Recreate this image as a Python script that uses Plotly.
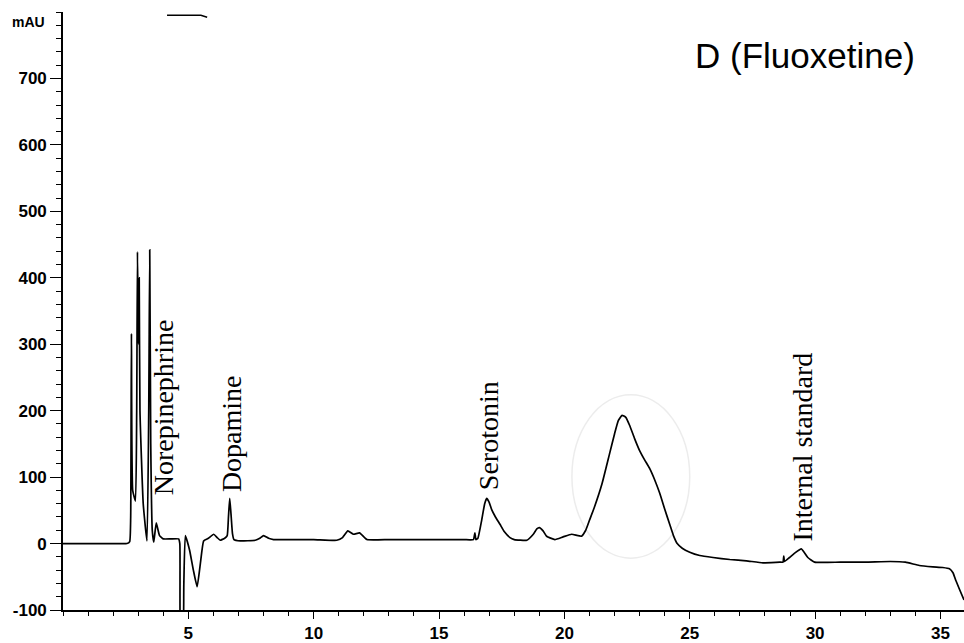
import plotly.graph_objects as go

# Retention time (min) and absorbance (mAU)
time_min = [0.0, 1.0, 2.0, 2.55, 2.66, 2.70, 2.73, 2.78, 2.89, 2.94, 2.97, 3.01, 3.04, 3.07, 3.20, 3.35,
            3.42, 3.46, 3.50, 3.56, 3.62, 3.72, 3.85, 4.0, 4.3, 4.61, 4.66, 4.70, 4.77, 4.82, 4.88,
            5.05, 5.2, 5.35, 5.48, 5.61, 5.8, 6.01, 6.15, 6.27, 6.45, 6.55, 6.60, 6.65, 6.70, 6.76,
            6.82, 7.07, 7.67, 7.85, 8.0, 8.2, 8.4, 9.0, 10.0, 10.92, 11.15, 11.36, 11.59, 11.83,
            12.12, 13.0, 14.0, 15.0, 16.0, 16.37, 16.43, 16.47, 16.55, 16.7, 16.82, 16.9, 17.0,
            17.1, 17.25, 17.43, 17.6, 17.83, 18.0, 18.5, 18.76, 18.9, 19.0, 19.15, 19.29, 19.62,
            19.95, 20.29, 20.68, 20.85, 21.0, 21.2, 21.5, 21.8, 22.0, 22.15, 22.3, 22.45, 22.6,
            22.8, 23.0, 23.2, 23.4, 23.6, 23.8, 24.0, 24.2, 24.35, 24.5, 24.7, 25.0, 25.4, 25.93,
            26.6, 27.26, 27.92, 28.59, 28.72, 28.75, 28.78, 28.98, 29.2, 29.45, 29.71, 29.98,
            31.0, 32.0, 33.0, 33.6, 34.16, 34.7, 35.09, 35.36, 35.5, 35.62, 35.75, 35.94]
absorbance_mau = [0, 0, 0, 0, 3, 40, 316, 80, 64, 200, 439, 300, 400, 200, 60, 4,
                  200, 442, 150, 20, 2, 31, 12, 7, 7, 7, 0, -160, -160, -60, 12,
                  -10, -40, -65, -30, 4, 8, 14, 9, 5, 8, 12, 40, 68, 45, 15,
                  6, 4, 5, 8, 12, 8, 6, 6, 6, 5, 9, 19, 14, 16,
                  6, 6, 6, 6, 6, 6, 16, 6, 8, 35, 60, 68, 62,
                  51, 40, 29, 18, 9, 6, 5, 14, 22, 24, 19, 11, 6,
                  10, 14, 11, 20, 35, 55, 90, 135, 165, 185, 193, 190, 178,
                  158, 140, 126, 113, 96, 76, 52, 29, 12, 0, -7, -13, -18, -21,
                  -24, -26, -29, -28, -28, -19, -27, -21, -14, -8, -21, -28,
                  -28, -28, -27, -28, -33, -35, -36, -38, -44, -56, -68, -85]

# Short stray trace segment near the top of the scan
stray_time = [4.15, 4.5, 5.0, 5.5, 5.75]
stray_mau = [795, 795, 796, 795, 792]

peak_labels = ["Norepinephrine", "Dopamine", "Serotonin", "Internal standard"]
label_time = [4.0, 6.75, 16.95, 29.5]
label_mau = [70, 74, 78, 0]

x_ticks = [5, 10, 15, 20, 25, 30, 35]
y_ticks = [-100, 0, 100, 200, 300, 400, 500, 600, 700]
y_tick_text = ["-100", "0", "100", "200", "300", "400", "500", "600", "700"]

fig = go.Figure()
fig.add_trace(go.Scatter(x=time_min, y=absorbance_mau, mode="lines",
                         line=dict(color="black", width=1.7, shape="spline", smoothing=0.4),
                         showlegend=False))
fig.add_trace(go.Scatter(x=stray_time, y=stray_mau, mode="lines",
                         line=dict(color="black", width=1.5), showlegend=False))

# faint pencil circle around the large peak
fig.add_shape(type="circle", xref="x", yref="y", x0=20.3, x1=25.0, y0=-22, y1=224,
              line=dict(color="#ececec", width=1.5), layer="below")

for name, tx, ty in zip(peak_labels, label_time, label_mau):
    fig.add_annotation(x=tx, y=ty, xref="x", yref="y", text=name, showarrow=False,
                       textangle=-90, xanchor="center", yanchor="bottom",
                       font=dict(family="Liberation Serif", size=28, color="black"))

fig.add_annotation(x=0.824, y=0.927, xref="paper", yref="paper", text="D (Fluoxetine)",
                   showarrow=False, xanchor="center", yanchor="middle",
                   font=dict(family="Liberation Sans", size=35, color="black"))
fig.add_annotation(x=0, y=785, xref="paper", yref="y", text="mAU", showarrow=False,
                   xanchor="right", yanchor="middle", xshift=-16,
                   font=dict(family="Liberation Sans", size=14, color="black", weight="bold"))

fig.update_layout(
    width=964, height=643,
    margin=dict(l=63, r=0, t=12, b=25),
    plot_bgcolor="white", paper_bgcolor="white",
    xaxis=dict(range=[0, 35.94], tickvals=x_ticks, ticks="outside", ticklen=7, tickwidth=1.3,
               tickcolor="black", showline=True, linecolor="black", linewidth=1.6,
               showgrid=False, zeroline=False,
               tickfont=dict(family="Liberation Sans", size=17, color="black", weight="bold"),
               minor=dict(dtick=1, ticks="outside", ticklen=4, tickcolor="black", tickwidth=1.2)),
    yaxis=dict(range=[-100, 800], tickvals=y_ticks, ticktext=y_tick_text, ticks="outside",
               ticklen=11, tickwidth=1.3,
               tickcolor="black", showline=True, linecolor="black", linewidth=1.6,
               showgrid=False, zeroline=False,
               tickfont=dict(family="Liberation Sans", size=17, color="black", weight="bold"),
               minor=dict(dtick=20, tick0=0, ticks="outside", ticklen=5, tickcolor="black", tickwidth=1.2)),
)

fig.write_html("out.html")
